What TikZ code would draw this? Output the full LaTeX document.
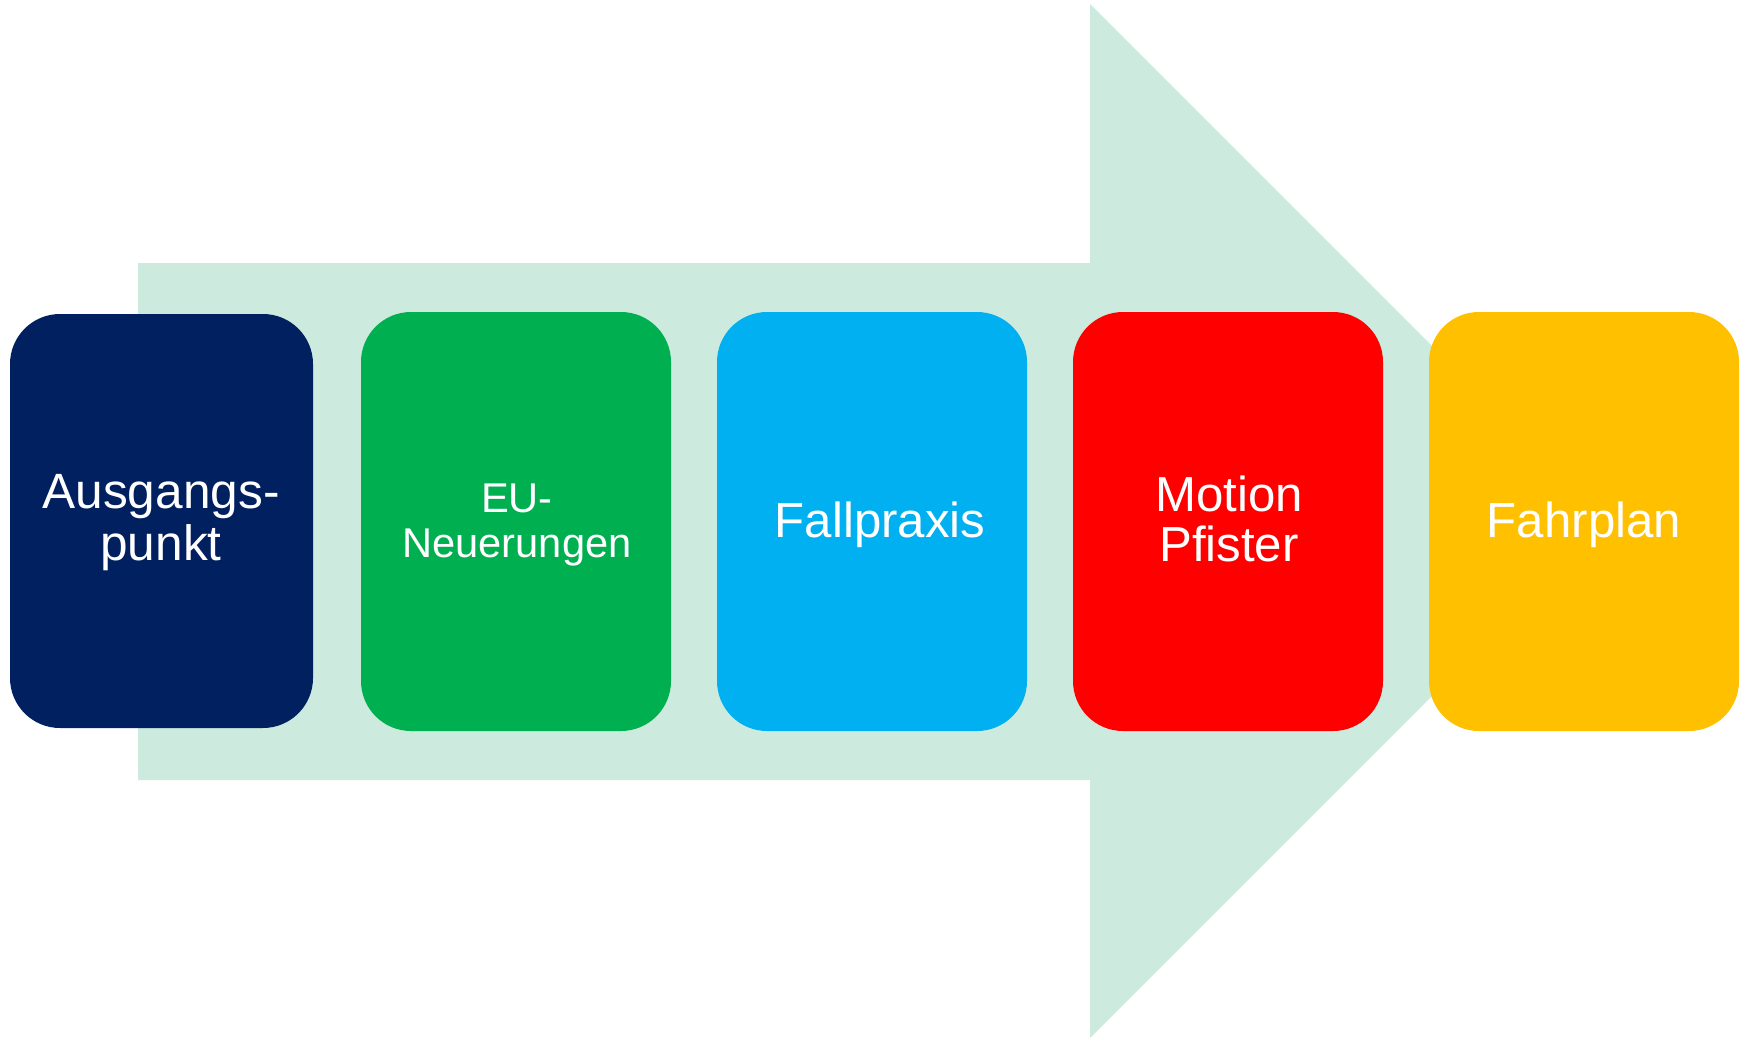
\documentclass[tikz,border=0pt]{standalone}
\usepackage{fontspec}
\setmainfont{Liberation Sans}

\definecolor{arrowmint}{RGB}{204,235,222}
\definecolor{navyblue}{RGB}{0,32,96}
\definecolor{officegreen}{RGB}{0,176,80}
\definecolor{skyblue}{RGB}{0,176,240}
\definecolor{brightred}{RGB}{255,0,0}
\definecolor{amber}{RGB}{255,192,0}

\tikzset{every picture/.style={line width=0.75pt}}
\tikzset{stage/.style={draw=none, rounded corners=37.5pt},
  stagetext/.style={text=white, align=center, inner sep=0pt}}

\begin{document}
\begin{tikzpicture}[x=0.75pt,y=0.75pt,yscale=-1,xscale=1]
\useasboundingbox (0,0) rectangle (1749,1038);

%Shape: Right Arrow [id:arrow]
\fill [arrowmint] (138,263) -- (1090,263) -- (1090,4) -- (1607,521) -- (1090,1038) -- (1090,780) -- (138,780) -- cycle ;

%Rounded Rect [id:box1]
\fill [stage, navyblue] (10,314) rectangle (313,728) ;
%Rounded Rect [id:box2]
\fill [stage, officegreen] (361,312) rectangle (671,731) ;
%Rounded Rect [id:box3]
\fill [stage, skyblue] (717,312) rectangle (1027,731) ;
%Rounded Rect [id:box4]
\fill [stage, brightred] (1073,312) rectangle (1383,731) ;
%Rounded Rect [id:box5]
\fill [stage, amber] (1429,312) rectangle (1739,731) ;

% Text Node
\node (ausgang) [stagetext, font=\fontsize{37.2}{39}\selectfont] at (161,523) {Ausgangs-\\punkt};
% Text Node
\node (eu) [stagetext, font=\fontsize{31.2}{34}\selectfont] at (517,525) {EU-\\Neuerungen};
% Text Node
\node (fallpraxis) [stagetext, font=\fontsize{36.9}{37.5}\selectfont] at (880,524.5) {Fallpraxis};
% Text Node
\node (motion) [stagetext, font=\fontsize{36.9}{38}\selectfont] at (1229,519) {Motion\\Pfister};
% Text Node
\node (fahrplan) [stagetext, font=\fontsize{36.9}{37.5}\selectfont] at (1584,524.5) {Fahrplan};

\end{tikzpicture}
\end{document}
